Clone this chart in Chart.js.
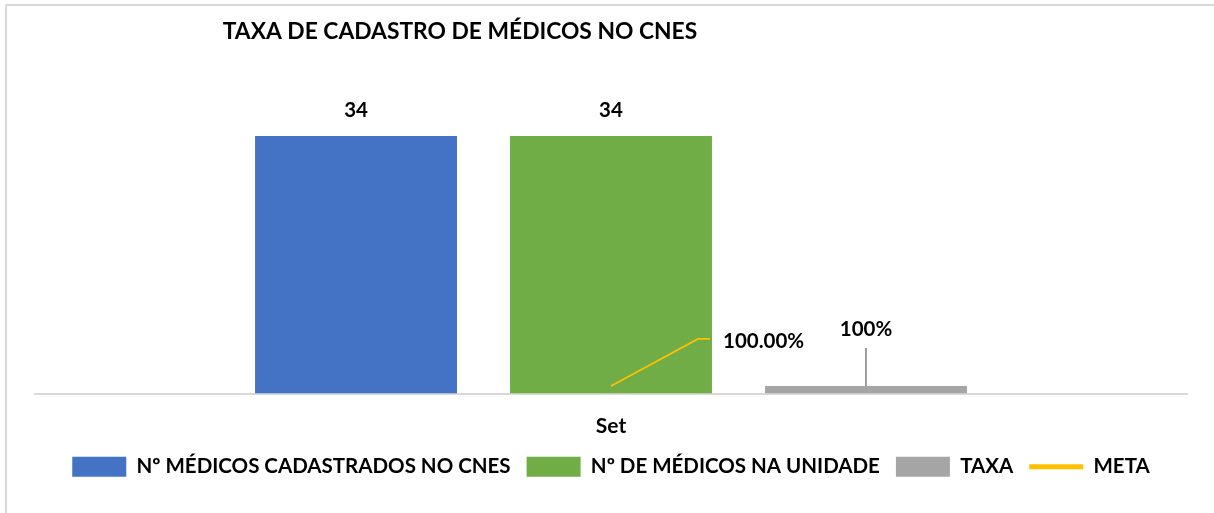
<!DOCTYPE html>
<html><head><meta charset="utf-8">
<script src="https://cdn.jsdelivr.net/npm/chart.js@4"></script>
<style>
html,body{margin:0;padding:0;background:#fff;}
#wrap{position:absolute;left:0;top:0;width:1214px;height:513px;overflow:hidden;}
#frame{position:absolute;left:5px;top:4px;width:1220px;height:520px;border-left:2px solid #d9d9d9;border-top:2px solid #d9d9d9;pointer-events:none;}
canvas{position:absolute;left:0;top:0;}
</style></head>
<body>
<div id="wrap"><canvas id="c" width="1214" height="513"></canvas><div id="frame"></div></div>
<script>
const chartTitle = 'TAXA DE CADASTRO DE MÉDICOS NO CNES';
const categories = ['Set'];
const seriesNames = ['Nº MÉDICOS CADASTRADOS NO CNES', 'Nº DE MÉDICOS NA UNIDADE', 'TAXA', 'META'];
const cadastrados = [34];
const naUnidade = [34];
const taxa = [1];
const meta = [1];
const cadastradosLabels = ['34'];
const naUnidadeLabels = ['34'];
const taxaLabels = ['100%'];
const metaLabels = ['100.00%'];

const FONT = 'Lato';
const WEIGHT = 'bold';

const titlePlugin = {
  id: 'customTitle',
  afterDraw(chart) {
    const ctx = chart.ctx;
    ctx.save();
    ctx.font = WEIGHT + ' 22.8px ' + FONT;
    ctx.fillStyle = '#000';
    ctx.textAlign = 'center';
    ctx.textBaseline = 'middle';
    ctx.fillText(chartTitle, 460, 32);
    ctx.restore();
  }
};

const labelPlugin = {
  id: 'dataLabels',
  afterDatasetsDraw(chart) {
    const ctx = chart.ctx;
    ctx.save();
    ctx.font = WEIGHT + ' 20.5px ' + FONT;
    ctx.fillStyle = '#000';
    ctx.textAlign = 'center';
    ctx.textBaseline = 'middle';
    const a = chart.getDatasetMeta(0).data[0];
    ctx.fillText(cadastradosLabels[0], a.x, a.y - 26);
    const b = chart.getDatasetMeta(1).data[0];
    ctx.fillText(naUnidadeLabels[0], b.x, b.y - 26);
    // TAXA with vertical leader line
    const g = chart.getDatasetMeta(2).data[0];
    ctx.strokeStyle = '#7f7f7f';
    ctx.lineWidth = 1.5;
    ctx.beginPath();
    ctx.moveTo(g.x, g.y);
    ctx.lineTo(g.x, g.y - 38);
    ctx.stroke();
    ctx.fillText(taxaLabels[0], g.x, g.y - 57);
    // META with leader line
    const m = chart.getDatasetMeta(3).data[0];
    ctx.strokeStyle = '#ffc000';
    ctx.lineWidth = 1.8;
    ctx.beginPath();
    ctx.moveTo(m.x, m.y);
    ctx.lineTo(m.x + 87, m.y - 47);
    ctx.lineTo(m.x + 99, m.y - 47);
    ctx.stroke();
    ctx.textAlign = 'left';
    ctx.fillText(metaLabels[0], m.x + 112, m.y - 45);
    ctx.restore();
  }
};

new Chart(document.getElementById('c'), {
  data: {
    labels: categories,
    datasets: [
      { type: 'bar', label: seriesNames[0], data: cadastrados, backgroundColor: '#4472c4', borderColor: '#4472c4', borderWidth: 0, pointStyle: 'rect', order: 2 },
      { type: 'bar', label: seriesNames[1], data: naUnidade, backgroundColor: '#70ad47', borderColor: '#70ad47', borderWidth: 0, pointStyle: 'rect', order: 2 },
      { type: 'bar', label: seriesNames[2], data: taxa, backgroundColor: '#a5a5a5', borderColor: '#a5a5a5', borderWidth: 0, pointStyle: 'rect', order: 2 },
      { type: 'line', label: seriesNames[3], data: meta, borderColor: '#ffc000', backgroundColor: '#ffc000', borderWidth: 5, borderCapStyle: 'round', showLine: false, pointRadius: 0, pointStyle: 'line', order: 1 }
    ]
  },
  options: {
    responsive: false,
    animation: false,
    devicePixelRatio: 1,
    categoryPercentage: 0.664,
    barPercentage: 0.792,
    layout: { padding: { left: 35, right: 27, top: 90.6, bottom: 26 } },
    scales: {
      x: {
        grid: { display: false },
        border: { display: true, color: '#d9d9d9', width: 2 },
        ticks: { font: { family: FONT, size: 21, weight: WEIGHT }, color: '#000', padding: 12 },
        afterFit(scale) { scale.height = 47; }
      },
      y: { display: false, min: 0, max: 40 }
    },
    plugins: {
      title: { display: false },
      tooltip: { enabled: false },
      legend: {
        position: 'bottom',
        labels: {
          usePointStyle: true,
          pointStyleWidth: 54,
          boxHeight: 20,
          padding: 16,
          color: '#000',
          font: { family: FONT, size: 20.5, weight: WEIGHT },
          sort: (a, b) => a.datasetIndex - b.datasetIndex
        }
      }
    }
  },
  plugins: [titlePlugin, labelPlugin]
});
</script>
</body></html>
